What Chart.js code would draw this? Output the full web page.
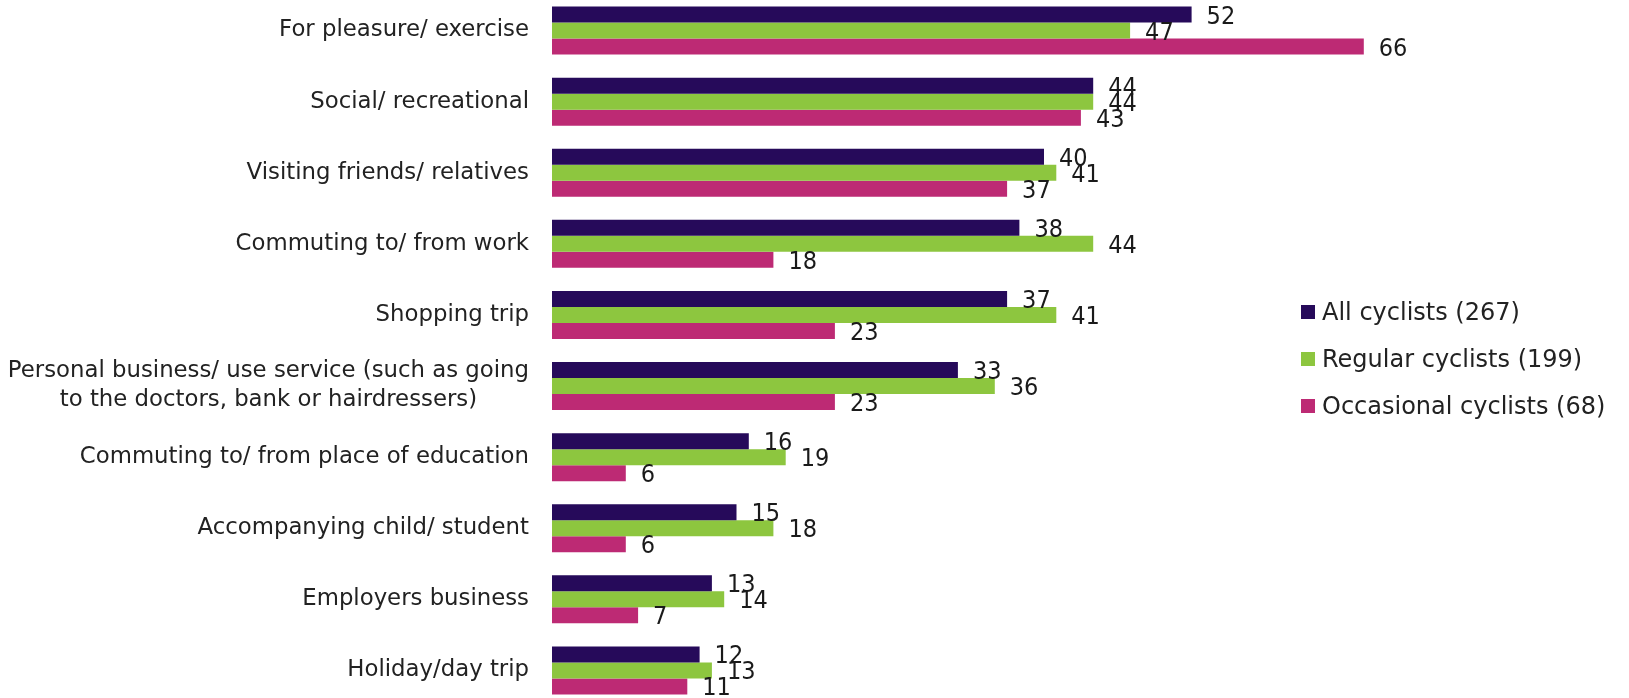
<!DOCTYPE html>
<html>
<head>
<meta charset="utf-8">
<script src="https://cdn.jsdelivr.net/npm/chart.js@4"></script>
<style>
  html, body { margin: 0; padding: 0; background: #ffffff; overflow: hidden; }
  body { width: 1629px; height: 698px; position: relative; }
  #wrap { position: absolute; left: 0; top: -5px; width: 1629px; height: 711px; }
  #legend { position: absolute; left: 1301px; top: 288px; font-family: 'DejaVu Sans', sans-serif; font-size: 24px; color: #222; }
  #legend div { height: 47px; display: flex; align-items: center; }
  #legend span.swatch { display: inline-block; width: 14px; height: 14px; margin-right: 7px; }
</style>
</head>
<body>
<div id="wrap"><canvas id="chart"></canvas></div>
<div id="legend"></div>
<script>
const CATEGORIES = [
  ['For pleasure/ exercise'],
  ['Social/ recreational'],
  ['Visiting friends/ relatives'],
  ['Commuting to/ from work'],
  ['Shopping trip'],
  ['Personal business/ use service (such as going', 'to the doctors, bank or hairdressers)'],
  ['Commuting to/ from place of education'],
  ['Accompanying child/ student'],
  ['Employers business'],
  ['Holiday/day trip']
];

const SERIES_NAMES = ['All cyclists (267)', 'Regular cyclists (199)', 'Occasional cyclists (68)'];
const ALL_CYCLISTS = [52, 44, 40, 38, 37, 33, 16, 15, 13, 12];
const REGULAR_CYCLISTS = [47, 44, 41, 44, 41, 36, 19, 18, 14, 13];
const OCCASIONAL_CYCLISTS = [66, 43, 37, 18, 23, 23, 6, 6, 7, 11];
const COLORS = ['#260a5a', '#8dc63f', '#bd2a74'];

const LABEL_FONT = "22.8px 'DejaVu Sans', sans-serif";
const VALUE_FONT = "25px 'Liberation Sans Narrow', 'DejaVu Sans Condensed', sans-serif";

// Category labels: block right-aligned to the axis, lines centred inside the block.
const categoryLabels = {
  id: 'categoryLabels',
  afterDraw(chart) {
    const ctx = chart.ctx;
    const y = chart.scales.y;
    const right = chart.chartArea.left - 23;
    const lineHeight = 29;
    ctx.save();
    ctx.font = LABEL_FONT;
    ctx.fillStyle = '#222222';
    ctx.textBaseline = 'middle';
    ctx.textAlign = 'center';
    CATEGORIES.forEach((lines, i) => {
      const cy = y.getPixelForValue(i);
      const widths = lines.map(l => ctx.measureText(l).width);
      const blockW = Math.max(...widths);
      const cx = right - blockW / 2;
      const startY = cy - (lines.length - 1) * lineHeight / 2;
      lines.forEach((l, j) => ctx.fillText(l, cx, startY + j * lineHeight));
    });
    ctx.restore();
  }
};

// Value labels just past the end of each bar.
const valueLabels = {
  id: 'valueLabels',
  afterDatasetsDraw(chart) {
    const ctx = chart.ctx;
    ctx.save();
    ctx.font = VALUE_FONT;
    ctx.fillStyle = '#1a1a1a';
    ctx.textBaseline = 'middle';
    ctx.textAlign = 'left';
    chart.data.datasets.forEach((ds, di) => {
      chart.getDatasetMeta(di).data.forEach((bar, i) => {
        ctx.fillText(String(ds.data[i]), bar.x + 15, bar.y + 2.5);
      });
    });
    ctx.restore();
  }
};

const datasets = [ALL_CYCLISTS, REGULAR_CYCLISTS, OCCASIONAL_CYCLISTS].map((data, i) => ({
  label: SERIES_NAMES[i],
  data: data,
  backgroundColor: COLORS[i],
  borderWidth: 0,
  categoryPercentage: 0.675,
  barPercentage: 1.0
}));

new Chart(document.getElementById('chart'), {
  type: 'bar',
  data: { labels: CATEGORIES.map(c => c.join(' ')), datasets },
  options: {
    indexAxis: 'y',
    responsive: true,
    maintainAspectRatio: false,
    animation: false,
    layout: { padding: { left: 552, right: 216, top: 0, bottom: 0 } },
    scales: {
      x: { display: false, min: 0, max: 70 },
      y: { display: false }
    },
    plugins: {
      legend: { display: false },
      tooltip: { enabled: false }
    }
  },
  plugins: [categoryLabels, valueLabels]
});

const legend = document.getElementById('legend');
SERIES_NAMES.forEach((name, i) => {
  const row = document.createElement('div');
  const swatch = document.createElement('span');
  swatch.className = 'swatch';
  swatch.style.backgroundColor = COLORS[i];
  row.append(swatch, name);
  legend.appendChild(row);
});
</script>
</body>
</html>
